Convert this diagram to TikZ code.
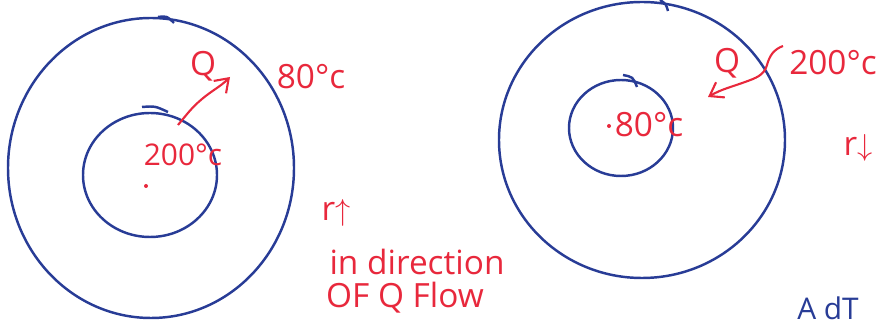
\documentclass[tikz,border=0pt]{standalone}
\usepackage{fontspec}
\setmainfont{Open Sans}
\usetikzlibrary{arrows.meta}
\definecolor{inkblue}{RGB}{40,60,150}
\definecolor{inkred}{RGB}{232,40,60}
\tikzset{ring/.style={draw=inkblue, line width=1.4pt},
  note/.style={text=inkred, font=\fontsize{19}{21}\selectfont, inner sep=0pt},
  flow/.style={draw=inkred, line width=1.2pt, -{Straight Barb[length=2.5mm,width=3.5mm]}}}

\begin{document}
\begin{tikzpicture}[x=0.02cm, y=-0.02cm]
  \useasboundingbox (0,0) rectangle (887,327);

  % left: heat flows outwards
  \draw[ring] (151,168) ellipse [x radius=143, y radius=150];
  \draw[ring] (150,175) ellipse [x radius=67, y radius=62];
  \draw[ring] (158,17) .. controls (167,16) .. (174,23);
  \draw[ring] (142,107) .. controls (155,106) .. (168,112);
  \fill[inkred] (146,186) circle [radius=2];

  \node[note] (qL) at (203,66) {Q};
  \node[note] (outL) at (311,77) {80°c};
  \node[note, font=\fontsize{17}{19}\selectfont] (inL) at (183,155) {200°c};
  \node[note] (rUp) at (336,213) {r$\uparrow$};
  \node[note] (dirA) at (417,262) {in direction};
  \node[note] (dirB) at (405,298) {OF Q Flow};

  \coordinate (qLs) at (178,125);
  \coordinate (qLe) at (230,77);
  \draw[flow] (qLs) to[out=50,in=220] (202,99) to[out=40,in=225] (qLe);

  % right: heat flows inwards
  \draw[ring] (642,140) ellipse [x radius=143, y radius=138];
  \draw[ring] (621,128) ellipse [x radius=52, y radius=48];
  \draw[ring] (660,0) .. controls (666,4) .. (668,11);
  \draw[ring] (623,75) .. controls (633,77) .. (637,87);
  \fill[inkred] (609,126) circle [radius=2];

  \node[note] (qR) at (727,63) {Q};
  \node[note] (outR) at (833,63) {200°c};
  \node[note] (inR) at (649,125) {80°c};
  \node[note] (rDown) at (858,148) {r$\downarrow$};
  \node[text=inkblue, font=\fontsize{17}{19}\selectfont, inner sep=0pt] (tail) at (828,308) {A dT};

  \coordinate (qRs) at (783,46);
  \coordinate (qRe) at (708,97);
  \draw[flow] (qRs) to[out=200,in=75] (767,65) to[out=255,in=20] (745,82) to[out=200,in=30] (qRe);
\end{tikzpicture}
\end{document}
